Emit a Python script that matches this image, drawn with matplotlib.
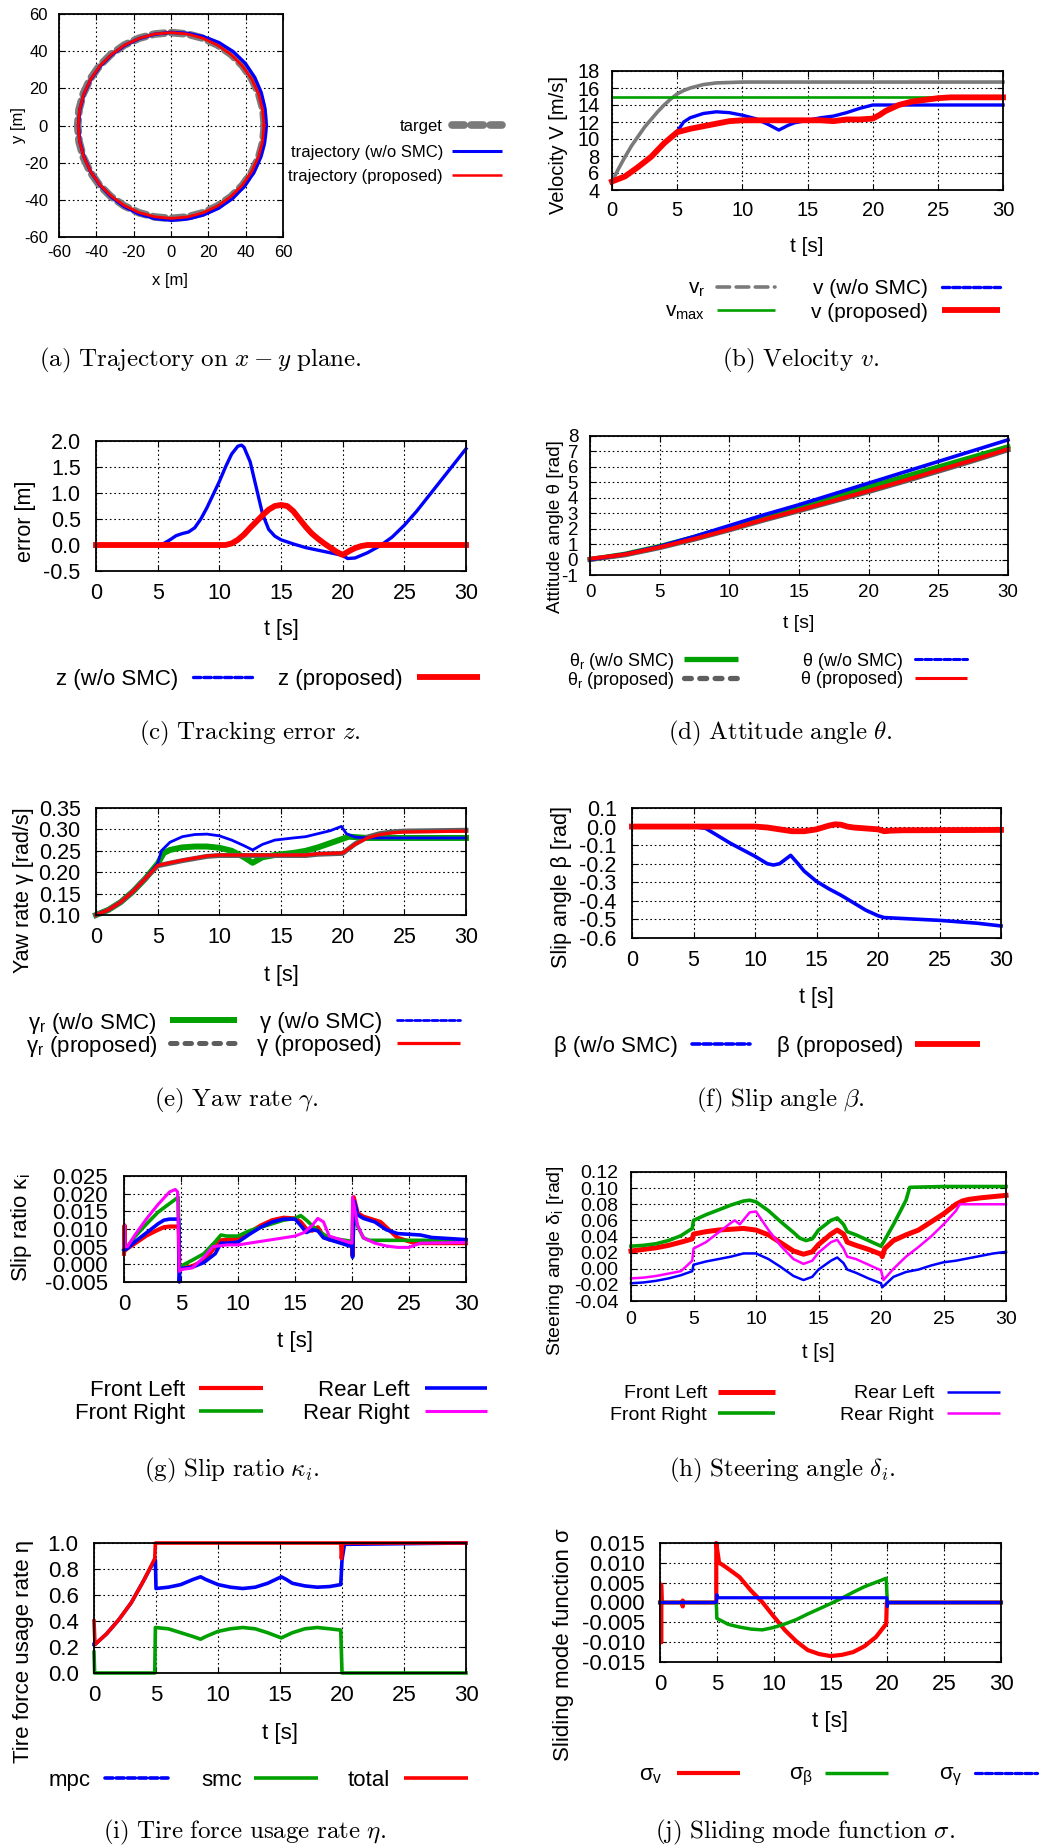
import numpy as np
import matplotlib.pyplot as plt
from matplotlib.lines import Line2D

plt.rcParams['font.family'] = ['Liberation Sans', 'DejaVu Sans']
plt.rcParams['axes.unicode_minus'] = False
plt.rcParams['mathtext.fontset'] = 'custom'
plt.rcParams['mathtext.rm'] = 'Liberation Sans'
plt.rcParams['mathtext.it'] = 'Liberation Sans:italic'
plt.rcParams['mathtext.bf'] = 'Liberation Sans:bold'

RED, BLUE, GREEN, MAG = '#ff0000', '#0000ff', '#00a000', '#ff00ff'
GRAY, DGRAY = '#7a7a7a', '#5e5e5e'

# ---- (a) trajectory on x-y plane, radius read every 10 deg ----
ang_deg = [0, 10, 20, 30, 40, 50, 60, 70, 80, 90, 100, 110, 120, 130, 140, 150, 160, 170, 180,
           190, 200, 210, 220, 230, 240, 250, 260, 270, 280, 290, 300, 310, 320, 330, 340, 350, 360]
r_target = [50.0, 50.0, 50.0, 50.0, 50.0, 50.0, 50.0, 50.0, 50.0, 50.0, 50.0, 50.0, 50.0,
            50.0, 50.0, 50.0, 50.0, 50.0, 50.0, 50.0, 50.0, 50.0, 50.0, 50.0, 50.0, 50.0,
            50.0, 50.0, 50.0, 50.0, 50.0, 50.0, 50.0, 50.0, 50.0, 50.0, 50.0]
r_wo_smc = [51.0, 51.2, 51.5, 51.8, 52.0, 51.9, 51.5, 50.9, 50.4, 50.1, 49.9, 49.8, 49.7,
            49.6, 49.6, 49.6, 49.6, 49.6, 49.6, 49.6, 49.6, 49.7, 49.8, 50.0, 50.3, 50.6,
            50.8, 51.0, 51.1, 51.2, 51.3, 51.3, 51.2, 51.1, 51.0, 51.0, 51.0]
r_proposed = [49.8, 49.8, 49.9, 49.9, 49.9, 49.9, 49.9, 50.0, 50.0, 50.0, 50.0, 49.9, 49.9,
              49.8, 49.8, 49.7, 49.7, 49.7, 49.7, 49.7, 49.7, 49.7, 49.7, 49.7, 49.8, 49.9,
              49.9, 50.0, 50.0, 50.0, 50.0, 49.9, 49.9, 49.8, 49.8, 49.8, 49.8]

# ---- (b) velocity ----
t_vr = [0, 0.5, 1, 1.5, 2, 2.5, 3, 3.5, 4, 4.5, 5, 5.5, 6, 7, 8, 9, 10, 30]
v_r = [5.0, 6.5, 7.9, 9.2, 10.3, 11.4, 12.3, 13.2, 14.0, 14.7, 15.3, 15.7, 16.0, 16.4, 16.6, 16.65, 16.7, 16.7]
t_vmax = [0, 30]
v_max = [14.9, 14.9]
t_v_wo = [0, 1, 2, 3, 4, 5, 5.5, 6, 7, 8, 9, 10, 11, 12, 12.8, 13.5, 14, 15, 16, 17, 18, 19, 20, 21, 30]
v_wo = [5.0, 5.6, 6.7, 7.9, 9.5, 10.9, 12.0, 12.5, 13.0, 13.2, 13.1, 12.8, 12.4, 11.7, 11.05, 11.6,
        11.9, 12.2, 12.5, 12.7, 13.1, 13.6, 14.0, 14.0, 14.0]
t_v_prop = [0, 1, 2, 3, 4, 5, 6, 7, 8, 9, 10, 12, 14, 16, 17, 18, 19, 20, 20.5, 21, 22, 23, 24, 25, 26, 30]
v_prop = [5.0, 5.6, 6.7, 7.9, 9.5, 10.8, 11.2, 11.5, 11.8, 12.1, 12.2, 12.2, 12.2, 12.2, 12.1, 12.3,
          12.3, 12.4, 12.8, 13.3, 14.0, 14.4, 14.6, 14.8, 14.9, 14.9]

# ---- (c) tracking error ----
t_z_wo = [0, 5, 5.5, 6, 6.5, 7, 7.5, 8, 8.5, 9, 9.5, 10, 10.5, 11, 11.5, 11.8, 12, 12.5, 13, 13.5,
          14, 14.5, 15, 16, 17, 18, 19, 20, 20.4, 21, 22, 23, 24, 25, 26, 27, 28, 29, 30]
z_wo = [0.0, 0.0, 0.03, 0.1, 0.18, 0.22, 0.25, 0.33, 0.5, 0.72, 0.97, 1.22, 1.5, 1.75, 1.9, 1.92,
        1.88, 1.6, 1.1, 0.6, 0.3, 0.17, 0.1, 0.02, -0.05, -0.1, -0.15, -0.2, -0.26, -0.25, -0.15,
        -0.02, 0.15, 0.38, 0.65, 0.95, 1.25, 1.55, 1.85]
t_z_prop = [0, 10.5, 11, 11.5, 12, 12.5, 13, 13.5, 14, 14.5, 15, 15.5, 16, 16.5, 17, 17.5, 18,
            18.5, 19, 19.5, 20, 20.5, 21, 21.5, 22, 30]
z_prop = [0.0, 0.0, 0.03, 0.1, 0.2, 0.33, 0.45, 0.57, 0.68, 0.75, 0.77, 0.75, 0.65, 0.5, 0.35,
          0.22, 0.12, 0.03, -0.05, -0.13, -0.19, -0.12, -0.06, -0.02, 0.0, 0.0]

# ---- (d) attitude angle ----
t_att = [0, 2.5, 5, 7.5, 10, 12.5, 15, 17.5, 20, 22.5, 25, 27.5, 30]
thr_wo = [0.0, 0.35, 0.85, 1.45, 2.1, 2.75, 3.4, 4.05, 4.7, 5.35, 6.0, 6.65, 7.3]
thr_prop = [0.02, 0.3, 0.77, 1.32, 1.92, 2.56, 3.16, 3.78, 4.4, 5.05, 5.72, 6.4, 7.1]
th_wo = [0.0, 0.35, 0.85, 1.5, 2.2, 2.9, 3.55, 4.25, 4.95, 5.65, 6.35, 7.05, 7.75]
th_prop = [0.05, 0.33, 0.8, 1.35, 1.95, 2.6, 3.2, 3.82, 4.45, 5.1, 5.78, 6.45, 7.15]

# ---- (e) yaw rate ----
t_g_prop = [0, 1, 2, 3, 4, 5, 6, 7, 8, 9, 10, 17, 18, 20, 21, 22, 23, 24, 25, 30]
gr_prop = [0.10, 0.112, 0.13, 0.155, 0.185, 0.215, 0.221, 0.227, 0.232, 0.237, 0.239, 0.239,
           0.242, 0.244, 0.266, 0.282, 0.29, 0.294, 0.296, 0.298]
g_prop = [0.10, 0.112, 0.13, 0.155, 0.185, 0.216, 0.222, 0.228, 0.233, 0.238, 0.24, 0.24,
          0.243, 0.245, 0.265, 0.28, 0.288, 0.292, 0.294, 0.296]
t_gr_wo = [0, 1, 2, 3, 4, 5, 5.5, 6, 7, 8, 9, 10, 11, 12, 12.7, 13.5, 14.5, 16, 17, 18, 19, 20,
           20.5, 22, 30]
gr_wo = [0.10, 0.112, 0.13, 0.155, 0.185, 0.22, 0.245, 0.252, 0.258, 0.26, 0.26, 0.257, 0.25,
         0.235, 0.222, 0.235, 0.24, 0.245, 0.25, 0.258, 0.268, 0.278, 0.283, 0.28, 0.28]
t_g_wo = [0, 1, 2, 3, 4, 5, 5.3, 6, 7, 8, 9, 10, 11, 12, 12.7, 13.5, 14.5, 16, 17, 18, 19, 19.9,
          20.3, 21, 22, 30]
g_wo = [0.10, 0.112, 0.13, 0.155, 0.185, 0.22, 0.25, 0.27, 0.283, 0.288, 0.289, 0.285, 0.275,
        0.262, 0.252, 0.265, 0.275, 0.28, 0.283, 0.29, 0.297, 0.307, 0.29, 0.282, 0.28, 0.28]

# ---- (f) slip angle ----
t_b_wo = [0, 5, 6, 7, 8, 9, 10, 11, 11.5, 12, 12.5, 12.9, 13.5, 14, 15, 16, 17, 18, 19, 20, 20.5,
          22, 25, 28, 30]
b_wo = [0.0, 0.0, -0.01, -0.05, -0.09, -0.125, -0.16, -0.2, -0.207, -0.2, -0.175, -0.155, -0.2,
        -0.24, -0.295, -0.335, -0.37, -0.41, -0.45, -0.48, -0.49, -0.495, -0.505, -0.52, -0.535]
t_b_prop = [0, 10, 11, 12, 13, 14, 15, 16, 16.5, 17, 17.5, 18, 19, 20, 20.5, 21, 22, 30]
b_prop = [0.0, 0.0, -0.005, -0.015, -0.025, -0.025, -0.015, 0.005, 0.012, 0.01, 0.0, -0.005,
          -0.01, -0.015, -0.025, -0.022, -0.02, -0.018]

# ---- (g) slip ratio ----
t_kfl = [0, 0.05, 0.1, 0.3, 1, 2, 3, 3.5, 4, 4.8, 4.85, 5, 6, 7, 7.5, 8, 8.5, 10, 11, 12, 13, 14,
         15, 15.5, 16, 16.5, 17, 17.5, 18, 19, 20, 20.05, 20.15, 20.5, 21, 22, 22.5, 23, 24, 25,
         25.5, 30]
k_fl = [0.003, 0.011, 0.004, 0.0045, 0.006, 0.0082, 0.0098, 0.0105, 0.0107, 0.0107, -0.002,
        -0.0012, -0.0005, 0.001, 0.003, 0.005, 0.0068, 0.0072, 0.009, 0.011, 0.0125, 0.0132, 0.013,
        0.012, 0.010, 0.0095, 0.0105, 0.008, 0.007, 0.0065, 0.006, 0.0025, 0.019, 0.0145, 0.0135,
        0.0125, 0.012, 0.0105, 0.0075, 0.0065, 0.006, 0.006]
t_kfr = [0, 0.3, 1, 2, 3, 4, 4.75, 4.85, 5, 6, 7, 8, 8.5, 9, 10, 11, 12, 13, 14, 15, 15.5, 16, 17,
         17.5, 18, 19, 20, 20.1, 20.3, 21, 21.5, 30]
k_fr = [0.004, 0.005, 0.008, 0.0115, 0.0148, 0.0172, 0.019, 0.0, -0.0005, 0.0012, 0.003, 0.0064,
        0.0083, 0.008, 0.008, 0.0095, 0.0105, 0.0115, 0.0125, 0.013, 0.0138, 0.0125, 0.0095,
        0.0085, 0.0075, 0.007, 0.0065, 0.018, 0.012, 0.0075, 0.0068, 0.0068]
t_krl = [0, 0.3, 1, 2, 3, 3.5, 4, 4.8, 4.85, 4.9, 5, 6, 7, 8, 8.5, 9, 10, 11, 12, 13, 14, 15, 15.5,
         16, 16.5, 17, 17.5, 18, 19, 20, 20.05, 20.2, 20.5, 21, 22, 23, 24, 25, 26, 27, 30]
k_rl = [0.004, 0.0045, 0.0065, 0.009, 0.0115, 0.0125, 0.0128, 0.0128, -0.005, -0.0015, -0.0012,
        -0.0008, 0.0005, 0.003, 0.006, 0.006, 0.0063, 0.0085, 0.0105, 0.012, 0.0128, 0.0128, 0.011,
        0.009, 0.0098, 0.0095, 0.0075, 0.007, 0.006, 0.005, 0.002, 0.0178, 0.014, 0.013, 0.012,
        0.0098, 0.0087, 0.0085, 0.0083, 0.0076, 0.007]
t_krr = [0, 0.05, 0.1, 0.3, 1, 2, 3, 4, 4.5, 4.7, 4.85, 5, 6, 7, 7.8, 9, 10, 11, 12, 13, 14, 15,
         15.8, 16.5, 17, 17.5, 18, 19, 20, 20.05, 20.5, 21, 22, 23, 24, 25, 26, 30]
k_rr = [0.005, 0.011, 0.005, 0.005, 0.0085, 0.013, 0.017, 0.0205, 0.0212, 0.0205, -0.002, -0.0015,
        -0.001, 0.002, 0.005, 0.0055, 0.0055, 0.006, 0.0065, 0.007, 0.0075, 0.008, 0.009, 0.011,
        0.013, 0.012, 0.008, 0.007, 0.006, 0.019, 0.011, 0.0075, 0.006, 0.0052, 0.0048, 0.0048,
        0.006, 0.0062]

# ---- (h) steering angle ----
t_dfl = [0, 1, 2, 3, 4, 4.9, 5, 6, 7, 8, 9, 10, 11, 12, 13, 13.8, 14.5, 15, 16, 16.5, 17, 17.3,
         18, 19, 20, 20.1, 20.3, 21, 22, 23, 24, 25, 26, 26.5, 27, 28, 30]
d_fl = [0.022, 0.024, 0.026, 0.029, 0.033, 0.037, 0.043, 0.046, 0.048, 0.049, 0.05, 0.048, 0.042,
        0.032, 0.022, 0.018, 0.021, 0.03, 0.043, 0.048, 0.043, 0.033, 0.029, 0.024, 0.018, 0.015,
        0.025, 0.035, 0.042, 0.048, 0.058, 0.068, 0.08, 0.084, 0.086, 0.088, 0.091]
t_dfr = [0, 1, 2, 3, 4, 4.9, 5, 6, 7, 8, 9, 9.5, 10, 11, 12, 13, 13.5, 14, 14.5, 15, 16, 16.5, 17,
         17.3, 18, 19, 20, 20.2, 21, 21.5, 22, 22.3, 25, 30]
d_fr = [0.028, 0.029, 0.031, 0.035, 0.041, 0.05, 0.06, 0.067, 0.073, 0.079, 0.084, 0.085, 0.083,
        0.072, 0.058, 0.045, 0.038, 0.035, 0.037, 0.048, 0.06, 0.063, 0.055, 0.046, 0.042, 0.035,
        0.028, 0.033, 0.055, 0.07, 0.085, 0.101, 0.102, 0.102]
t_drl = [0, 1, 2, 3, 4, 4.9, 5, 6, 7, 8, 9, 10, 11, 12, 13, 13.8, 14.5, 15, 16, 16.5, 17, 17.3, 18,
         19, 20, 20.1, 21, 22, 23, 24, 25, 26, 27, 28, 29, 30]
d_rl = [-0.018, -0.017, -0.015, -0.012, -0.008, -0.003, 0.005, 0.009, 0.012, 0.015, 0.019, 0.019,
        0.012, 0.002, -0.009, -0.014, -0.01, -0.001, 0.01, 0.014, 0.007, -0.001, -0.005, -0.012,
        -0.018, -0.023, -0.01, -0.004, -0.001, 0.004, 0.008, 0.01, 0.013, 0.016, 0.019, 0.021]
t_drr = [0, 1, 2, 3, 4, 4.9, 5, 6, 7, 8, 8.3, 8.7, 9.5, 10, 11, 12, 13, 13.8, 14.5, 15, 16, 16.5,
         17, 17.3, 18, 19, 20, 20.2, 21, 22, 23, 24, 25, 26, 26.3, 30]
d_rr = [-0.012, -0.011, -0.009, -0.006, -0.003, 0.01, 0.025, 0.033, 0.045, 0.057, 0.06, 0.055,
        0.07, 0.071, 0.048, 0.028, 0.012, 0.006, 0.01, 0.02, 0.033, 0.036, 0.025, 0.015, 0.012,
        0.005, -0.002, -0.014, 0.0, 0.015, 0.027, 0.04, 0.055, 0.072, 0.08, 0.08]

# ---- (i) tire force usage rate ----
t_tot = [0, 0.08, 1, 2, 3, 4, 4.9, 4.95, 19.9, 19.95, 20.05, 30]
eta_total = [0.4, 0.22, 0.3, 0.41, 0.54, 0.71, 0.88, 1.0, 1.0, 0.88, 1.0, 1.0]
t_mpc = [0, 0.08, 1, 2, 3, 4, 4.9, 4.95, 5, 6, 7, 8, 8.6, 9, 10, 11, 12, 13, 14, 15.1, 15.5, 16,
         17, 18, 19, 19.9, 20, 20.2, 30]
eta_mpc = [0.22, 0.22, 0.3, 0.41, 0.54, 0.71, 0.87, 0.87, 0.65, 0.66, 0.68, 0.72, 0.74, 0.72,
           0.68, 0.66, 0.65, 0.66, 0.69, 0.74, 0.72, 0.69, 0.67, 0.66, 0.665, 0.68, 0.87, 0.99, 1.0]
t_smc = [0, 0.05, 4.9, 4.95, 6, 7, 8, 8.6, 9, 10, 11, 12, 13, 14, 15.1, 16, 17, 18, 19, 19.9, 20, 30]
eta_smc = [0.16, 0.0, 0.0, 0.35, 0.34, 0.31, 0.28, 0.26, 0.28, 0.32, 0.34, 0.35, 0.34, 0.31, 0.27,
           0.31, 0.34, 0.35, 0.34, 0.33, 0.0, 0.0]

# ---- (j) sliding mode function ----
t_sv = [0, 0.1, 0.1, 0.1, 0.15, 1.95, 2.0, 2.0, 2.05, 4.95, 4.95, 5.2, 5.5, 6, 7, 8, 9, 10, 11,
        12, 13, 14, 15, 16, 17, 18, 19, 19.9, 19.95, 30]
sig_v = [0.0, 0.0, -0.01, 0.0045, 0.0, 0.0, -0.001, 0.0005, 0.0, 0.0, 0.015, 0.010, 0.0095,
         0.0085, 0.0064, 0.003, 0.0001, -0.0035, -0.007, -0.0098, -0.012, -0.013, -0.0135,
         -0.0132, -0.0125, -0.011, -0.0087, -0.0054, 0.0, 0.0]
t_sb = [0, 4.95, 5.0, 6, 7, 8, 9, 10, 11, 12, 13, 14, 15, 16, 17, 18, 19, 19.9, 20.0, 30]
sig_b = [0.0, 0.0, -0.004, -0.0055, -0.0062, -0.0067, -0.0069, -0.0063, -0.0054, -0.0043, -0.0029,
         -0.0016, -0.0003, 0.0011, 0.0026, 0.004, 0.0051, 0.0061, 0.0, 0.0]
t_sg = [0, 4.95, 5.0, 5.05, 19.95, 20.0, 20.05, 30]
sig_g = [0.0, 0.0, 0.002, 0.0012, 0.0012, -0.001, 0.0, 0.0]

T_TICKS = [0, 5, 10, 15, 20, 25, 30]

W, H = 1045, 1848
fig = plt.figure(figsize=(W / 100, H / 100), dpi=100)


def fx(x):
    return x / W


def fy(y):
    return 1 - y / H


def panel(x0, y0, x1, y1):
    return fig.add_axes([fx(x0), fy(y1), (x1 - x0) / W, (y1 - y0) / H])


def style(ax, xlim, xticks, ylim, yticks, yfmt, fs, xpad, ypad):
    ax.set_xlim(xlim)
    ax.set_ylim(ylim)
    ax.set_xticks(xticks)
    ax.set_xticklabels(['%d' % v for v in xticks])
    ax.set_yticks(yticks)
    ax.set_yticklabels([yfmt % v for v in yticks])
    ax.grid(True, color='black', linestyle=(0, (1.5, 2.5)), linewidth=0.8)
    ax.set_axisbelow(True)
    ax.tick_params(direction='in', length=4, width=0.8, top=True, right=True, labelsize=fs)
    ax.tick_params(axis='x', pad=xpad)
    ax.tick_params(axis='y', pad=ypad)
    for s in ax.spines.values():
        s.set_linewidth(1.3)


def label(x, y, s, fs, rot=0):
    fig.text(fx(x), fy(y), s, ha='center', va='center', fontsize=fs, rotation=rot)


def key(xt, x0, x1, y, s, fs, **kw):
    fig.text(fx(xt), fy(y), s, ha='right', va='center_baseline', fontsize=fs)
    fig.add_artist(Line2D([fx(x0), fx(x1)], [fy(y), fy(y)], transform=fig.transFigure,
                          solid_capstyle='butt', dash_capstyle='round', **kw))


def caption(x, y, s):
    fig.text(fx(x), fy(y), s, ha='center', va='center', fontsize=18, math_fontfamily='cm')


DASH = (0, (2.2, 0.9))
GDASH = (0, (1.3, 1.6))

# (a)
ax = panel(59, 14, 283, 237)
style(ax, (-60, 60), [-60, -40, -20, 0, 20, 40, 60], (-60, 60), [-60, -40, -20, 0, 20, 40, 60],
      '%d', 12, 5.5, 8)
th = np.radians(ang_deg)
ax.plot(np.array(r_target) * np.cos(th), np.array(r_target) * np.sin(th), color=GRAY, lw=5.5,
        linestyle=(0, (1.6, 0.9)), dash_capstyle='round')
ax.plot(np.array(r_wo_smc) * np.cos(th), np.array(r_wo_smc) * np.sin(th), color=BLUE, lw=2.4)
ax.plot(np.array(r_proposed) * np.cos(th), np.array(r_proposed) * np.sin(th), color=RED, lw=2.0)
label(18, 125, 'y [m]', 12, 90)
label(170, 280, 'x [m]', 12)
key(443, 452, 502, 125, 'target', 12, color=GRAY, lw=5.5, linestyle=(0, (1.6, 0.9)))
key(443, 452, 502, 151, 'trajectory (w/o SMC)', 12, color=BLUE, lw=2.2)
key(443, 452, 502, 175, 'trajectory (proposed)', 12, color=RED, lw=1.8)

# (b)
ax = panel(612, 71, 1003, 190)
style(ax, (0, 30), T_TICKS, (4, 18), [4, 6, 8, 10, 12, 14, 16, 18], '%d', 14.5, 8, 9)
ax.plot(t_vr, v_r, color=GRAY, lw=2.6, clip_on=False)
ax.plot(t_vmax, v_max, color=GREEN, lw=1.9, clip_on=False)
ax.plot(t_v_wo, v_wo, color=BLUE, lw=2.4, clip_on=False)
ax.plot(t_v_prop, v_prop, color=RED, lw=4.2, clip_on=False)
label(559, 145, 'Velocity V [m/s]', 14.5, 90)
label(807, 246, 't [s]', 15)
key(705, 717, 775, 287, r'v$_\mathregular{r}$', 15, color=GRAY, lw=2.6, linestyle=(0, (3.5, 1.8)))
key(705, 717, 775, 310, r'v$_\mathregular{max}$', 15, color=GREEN, lw=1.9)
key(928, 942, 1000, 287, 'v (w/o SMC)', 15, color=BLUE, lw=2.4, linestyle=DASH)
key(928, 942, 1000, 310, 'v (proposed)', 15, color=RED, lw=4.2)

# (c)
ax = panel(96, 441, 466, 571)
style(ax, (0, 30), T_TICKS, (-0.5, 2.0), [-0.5, 0.0, 0.5, 1.0, 1.5, 2.0], '%.1f', 15.5, 9, 11)
ax.plot(t_z_wo, z_wo, color=BLUE, lw=2.4, clip_on=False)
ax.plot(t_z_prop, z_prop, color=RED, lw=4.2, clip_on=False)
label(26, 521, 'error [m]', 15.5, 90)
label(281, 630, 't [s]', 15.5)
key(178, 193, 255, 677, 'z (w/o SMC)', 16, color=BLUE, lw=2.4, linestyle=DASH)
key(403, 417, 480, 677, 'z (proposed)', 16, color=RED, lw=4.2)

# (d)
ax = panel(590, 436, 1008, 575)
style(ax, (0, 30), T_TICKS, (-1, 8), list(range(-1, 9)), '%d', 13.5, 6.5, 8.5)
ax.plot(t_att, thr_wo, color=GREEN, lw=3.6, clip_on=False)
ax.plot(t_att, thr_prop, color=DGRAY, lw=3.6, clip_on=False)
ax.plot(t_att, th_wo, color=BLUE, lw=2.6, clip_on=False)
ax.plot(t_att, th_prop, color=RED, lw=2.8, clip_on=False)
label(556, 527, 'Attitude angle θ [rad]', 13.5, 90)
label(799, 623, 't [s]', 14)
key(675, 684, 738, 659, r'θ$_\mathregular{r}$ (w/o SMC)', 13, color=GREEN, lw=3.8)
key(675, 684, 738, 678, r'θ$_\mathregular{r}$ (proposed)', 13, color=DGRAY, lw=3.8, linestyle=GDASH)
key(903, 915, 967, 659, 'θ (w/o SMC)', 13, color=BLUE, lw=2.2, linestyle=DASH)
key(903, 915, 967, 678, 'θ (proposed)', 13, color=RED, lw=2.2)

# (e)
ax = panel(96, 808, 466, 915)
style(ax, (0, 30), T_TICKS, (0.10, 0.35), [0.10, 0.15, 0.20, 0.25, 0.30, 0.35], '%.2f', 15.5, 9, 11)
ax.plot(t_gr_wo, gr_wo, color=GREEN, lw=4.3, clip_on=False)
ax.plot(t_g_prop, gr_prop, color=DGRAY, lw=3.6, clip_on=False)
ax.plot(t_g_wo, g_wo, color=BLUE, lw=2.0, clip_on=False)
ax.plot(t_g_prop, g_prop, color=RED, lw=2.3, clip_on=False)
label(24, 890, 'Yaw rate γ [rad/s]', 15.5, 90)
label(281, 975, 't [s]', 15.5)
key(157, 170, 237, 1020, r'γ$_\mathregular{r}$ (w/o SMC)', 16, color=GREEN, lw=4.3)
key(157, 170, 237, 1043, r'γ$_\mathregular{r}$ (proposed)', 16, color=DGRAY, lw=3.6, linestyle=GDASH)
key(382, 397, 460, 1020, 'γ (w/o SMC)', 16, color=BLUE, lw=2.0, linestyle=DASH)
key(382, 397, 460, 1043, 'γ (proposed)', 16, color=RED, lw=2.3)

# (f)
ax = panel(632, 808, 1001, 938)
style(ax, (0, 30), T_TICKS, (-0.6, 0.1), [-0.6, -0.5, -0.4, -0.3, -0.2, -0.1, 0.0, 0.1], '%.1f',
      15.5, 9, 11)
ax.plot(t_b_wo, b_wo, color=BLUE, lw=2.6, clip_on=False)
ax.plot(t_b_prop, b_prop, color=RED, lw=4.2, clip_on=False)
label(561, 887, 'Slip angle β [rad]', 15.5, 90)
label(816, 997, 't [s]', 15.5)
key(678, 692, 750, 1044, 'β (w/o SMC)', 16, color=BLUE, lw=2.6, linestyle=DASH)
key(903, 915, 980, 1044, 'β (proposed)', 16, color=RED, lw=4.2)

# (g)
ax = panel(124, 1176, 466, 1282)
style(ax, (0, 30), T_TICKS, (-0.005, 0.025), [-0.005, 0.0, 0.005, 0.010, 0.015, 0.020, 0.025],
      '%.3f', 16, 8.5, 11.5)
ax.plot(t_kfl, k_fl, color=RED, lw=3.0, clip_on=False)
ax.plot(t_kfr, k_fr, color=GREEN, lw=2.6, clip_on=False)
ax.plot(t_krl, k_rl, color=BLUE, lw=2.6, clip_on=False)
ax.plot(t_krr, k_rr, color=MAG, lw=2.2, clip_on=False)
label(21, 1228, r'Slip ratio κ$_\mathregular{i}$', 16, 90)
label(295, 1342, 't [s]', 16)
key(185, 199, 263, 1388, 'Front Left', 16, color=RED, lw=3.0)
key(185, 199, 263, 1411, 'Front Right', 16, color=GREEN, lw=2.6)
key(410, 425, 487, 1388, 'Rear Left', 16, color=BLUE, lw=2.6)
key(410, 425, 487, 1411, 'Rear Right', 16, color=MAG, lw=2.2)

# (h)
ax = panel(631, 1172, 1006, 1301)
style(ax, (0, 30), T_TICKS, (-0.04, 0.12),
      [-0.04, -0.02, 0.0, 0.02, 0.04, 0.06, 0.08, 0.10, 0.12], '%.2f', 14, 7, 9)
ax.plot(t_dfl, d_fl, color=RED, lw=3.6, clip_on=False)
ax.plot(t_dfr, d_fr, color=GREEN, lw=2.6, clip_on=False)
ax.plot(t_drl, d_rl, color=BLUE, lw=1.8, clip_on=False)
ax.plot(t_drr, d_rr, color=MAG, lw=1.8, clip_on=False)
label(555, 1261, r'Steering angle δ$_\mathregular{i}$ [rad]', 14, 90)
label(818, 1352, 't [s]', 14.5)
key(707, 718, 775, 1392, 'Front Left', 14, color=RED, lw=3.6)
key(707, 718, 775, 1413, 'Front Right', 14, color=GREEN, lw=2.6)
key(934, 947, 1000, 1392, 'Rear Left', 14, color=BLUE, lw=1.8)
key(934, 947, 1000, 1413, 'Rear Right', 14, color=MAG, lw=1.8)

# (i)
ax = panel(94, 1543, 466, 1673)
style(ax, (0, 30), T_TICKS, (0, 1.0), [0.0, 0.2, 0.4, 0.6, 0.8, 1.0], '%.1f', 16, 8.5, 11)
ax.plot(t_mpc, eta_mpc, color=BLUE, lw=2.6, clip_on=False)
ax.plot(t_smc, eta_smc, color=GREEN, lw=2.6, clip_on=False)
ax.plot(t_tot, eta_total, color=RED, lw=2.6, clip_on=False)
label(24, 1651, 'Tire force usage rate η', 16, 90)
label(280, 1733, 't [s]', 16)
key(91, 105, 168, 1778, 'mpc', 16, color=BLUE, lw=2.6, linestyle=DASH)
key(242, 254, 318, 1778, 'smc', 16, color=GREEN, lw=2.6)
key(390, 404, 468, 1778, 'total', 16, color=RED, lw=2.6)

# (j)
ax = panel(660, 1543, 1001, 1662)
style(ax, (0, 30), T_TICKS, (-0.015, 0.015),
      [-0.015, -0.010, -0.005, 0.0, 0.005, 0.010, 0.015], '%.3f', 16, 8.5, 11)
ax.plot(t_sv, sig_v, color=RED, lw=3.0, clip_on=False)
ax.plot(t_sb, sig_b, color=GREEN, lw=2.5, clip_on=False)
ax.plot(t_sg, sig_g, color=BLUE, lw=2.3, clip_on=False)
label(564, 1645, 'Sliding mode function σ', 16, 90)
label(830, 1721, 't [s]', 16)
key(663, 677, 740, 1773, r'σ$_\mathregular{v}$', 16, color=RED, lw=3.0)
key(813, 825, 888, 1773, r'σ$_\mathregular{β}$', 16, color=GREEN, lw=2.5)
key(963, 975, 1037, 1773, r'σ$_\mathregular{γ}$', 16, color=BLUE, lw=2.3, linestyle=DASH)

# sub-captions
caption(200, 360, r'$\mathrm{(a)\ Trajectory\ on\ }x-y\mathrm{\ plane.}$')
caption(801, 360, r'$\mathrm{(b)\ Velocity\ }v\mathrm{.}$')
caption(250, 733, r'$\mathrm{(c)\ Tracking\ error\ }z\mathrm{.}$')
caption(780, 733, r'$\mathrm{(d)\ Attitude\ angle\ }\theta\mathrm{.}$')
caption(236, 1100, r'$\mathrm{(e)\ Yaw\ rate\ }\gamma\mathrm{.}$')
caption(780, 1100, r'$\mathrm{(f)\ Slip\ angle\ }\beta\mathrm{.}$')
caption(232, 1470, r'$\mathrm{(g)\ Slip\ ratio\ }\kappa_i\mathrm{.}$')
caption(782, 1470, r'$\mathrm{(h)\ Steering\ angle\ }\delta_i\mathrm{.}$')
caption(245, 1832, r'$\mathrm{(i)\ Tire\ force\ usage\ rate\ }\eta\mathrm{.}$')
caption(805, 1832, r'$\mathrm{(j)\ Sliding\ mode\ function\ }\sigma\mathrm{.}$')

fig.savefig('out.png', dpi=100)
